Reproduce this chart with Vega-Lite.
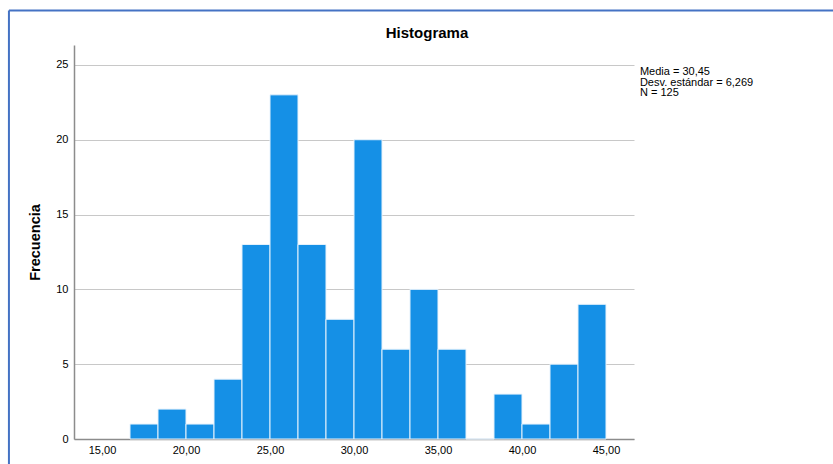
{
  "$schema": "https://vega.github.io/schema/vega-lite/v6.json",
  "width": 560,
  "height": 394,
  "autosize": {"type": "none"},
  "padding": {"left": 74, "top": 45, "right": 199, "bottom": 25},
  "background": "white",
  "title": {
    "text": "Histograma",
    "anchor": "middle",
    "dx": 73,
    "offset": -32,
    "font": "Liberation Sans",
    "fontSize": 15,
    "fontWeight": "bold",
    "color": "#000000"
  },
  "config": {
    "view": {"stroke": null},
    "font": "Liberation Sans"
  },
  "datasets": {
    "bins": [
      {"bin_start": 16.667, "bin_end": 18.333, "count": 1},
      {"bin_start": 18.333, "bin_end": 20.0, "count": 2},
      {"bin_start": 20.0, "bin_end": 21.667, "count": 1},
      {"bin_start": 21.667, "bin_end": 23.333, "count": 4},
      {"bin_start": 23.333, "bin_end": 25.0, "count": 13},
      {"bin_start": 25.0, "bin_end": 26.667, "count": 23},
      {"bin_start": 26.667, "bin_end": 28.333, "count": 13},
      {"bin_start": 28.333, "bin_end": 30.0, "count": 8},
      {"bin_start": 30.0, "bin_end": 31.667, "count": 20},
      {"bin_start": 31.667, "bin_end": 33.333, "count": 6},
      {"bin_start": 33.333, "bin_end": 35.0, "count": 10},
      {"bin_start": 35.0, "bin_end": 36.667, "count": 6},
      {"bin_start": 36.667, "bin_end": 38.333, "count": 0},
      {"bin_start": 38.333, "bin_end": 40.0, "count": 3},
      {"bin_start": 40.0, "bin_end": 41.667, "count": 1},
      {"bin_start": 41.667, "bin_end": 43.333, "count": 5},
      {"bin_start": 43.333, "bin_end": 45.0, "count": 9}
    ],
    "stats": [
      {"lines": ["Media = 30,45", "Desv. estándar = 6,269", "N = 125"]}
    ]
  },
  "layer": [
    {
      "data": {"name": "bins"},
      "mark": {"type": "bar", "color": "#1590E6", "stroke": "#e6f2fc", "strokeWidth": 1},
      "encoding": {
        "x": {
          "field": "bin_start",
          "type": "quantitative",
          "scale": {"domain": [13.333, 46.667], "nice": false, "zero": false},
          "axis": {
            "title": null,
            "values": [15, 20, 25, 30, 35, 40, 45],
            "labelExpr": "replace(format(datum.value, '.2f'), '.', ',')",
            "labelFont": "Liberation Sans",
            "labelFontSize": 11,
            "labelColor": "#000000",
            "labelPadding": 5,
            "ticks": false,
            "grid": false,
            "domainColor": "#8c8c8c",
            "domainWidth": 1.5
          }
        },
        "x2": {"field": "bin_end"},
        "y": {
          "field": "count",
          "type": "quantitative",
          "scale": {"domain": [0, 26.33], "nice": false, "padding": 0},
          "axis": {
            "title": "Frecuencia",
            "titleFont": "Liberation Sans",
            "titleFontSize": 14.5,
            "titleFontWeight": "bold",
            "titleColor": "#000000",
            "titlePadding": 13,
            "values": [0, 5, 10, 15, 20, 25],
            "labelFont": "Liberation Sans",
            "labelFontSize": 11,
            "labelColor": "#000000",
            "labelPadding": 6,
            "ticks": false,
            "grid": true,
            "gridColor": "#c8c8c8",
            "gridWidth": 1,
            "domainColor": "#8c8c8c",
            "domainWidth": 1.5
          }
        },
        "y2": {"datum": 0}
      }
    },
    {
      "data": {"name": "stats"},
      "mark": {"type": "text", "align": "left", "baseline": "top", "fontSize": 11, "lineHeight": 10.5, "color": "#000000", "font": "Liberation Sans"},
      "encoding": {
        "x": {"datum": 47.02, "type": "quantitative"},
        "y": {"datum": 24.9, "type": "quantitative"},
        "text": {"field": "lines"}
      }
    },
    {
      "data": {"values": [{"edge": "left"}]},
      "mark": {"type": "rule", "color": "#4472C4", "strokeWidth": 2},
      "encoding": {
        "x": {"datum": 9.46, "type": "quantitative"},
        "y": {"datum": 28.64, "type": "quantitative"},
        "y2": {"datum": -3}
      }
    },
    {
      "data": {"values": [{"edge": "top"}]},
      "mark": {"type": "rule", "color": "#4472C4", "strokeWidth": 2},
      "encoding": {
        "x": {"datum": 9.46, "type": "quantitative"},
        "x2": {"datum": 62},
        "y": {"datum": 28.64, "type": "quantitative"}
      }
    }
  ]
}
